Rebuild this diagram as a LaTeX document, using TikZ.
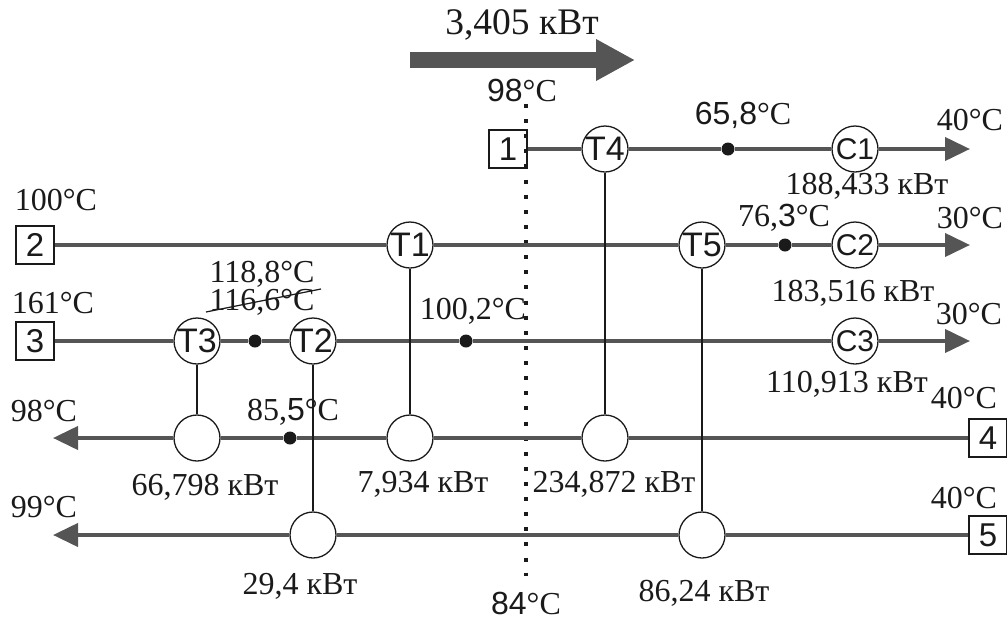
\documentclass[tikz,border=0pt]{standalone}
\usepackage{fontspec}
\setmainfont{Liberation Serif}
\setsansfont{Liberation Sans}
\usetikzlibrary{arrows.meta}
\definecolor{PipeGrey}{HTML}{555555}
\definecolor{InkDark}{HTML}{1A1A1A}
\tikzset{
  hex unit/.style={
    circle,
    draw=InkDark,
    line width=1.3pt,
    inner sep=-11pt,
    minimum size=46pt,
    font=\sffamily\fontsize{34}{34}\selectfont,
    text=InkDark
  },
  cool unit/.style={hex unit, font=\sffamily\fontsize{30}{30}\selectfont},
  stream box/.style={
    rectangle,
    draw=InkDark,
    line width=1.4pt,
    inner sep=0pt,
    minimum size=38pt,
    font=\sffamily\fontsize{33}{33}\selectfont,
    text=InkDark
  },
  temp dot/.style={circle, fill=InkDark, inner sep=0pt, minimum size=13pt},
  pipe/.style={PipeGrey, line width=4pt},
  pipe arr/.style={pipe, -{Triangle[length=25pt, width=23pt]}},
  tie/.style={InkDark, line width=1.5pt},
  txt/.style={font=\fontsize{32}{32}\selectfont, text=InkDark, inner sep=0pt}
}
\begin{document}
\begin{tikzpicture}[x=1pt, y=-1pt]
  \useasboundingbox (0,0) rectangle (1007,619);

  % pinch line
  \coordinate (pinchtop) at (526,104);
  \coordinate (pinchbot) at (526,576);
  \draw[InkDark, line width=4pt, dash pattern=on 4pt off 11.12pt] (pinchtop) -- (pinchbot);

  \coordinate (heatA) at (410,60);
  \coordinate (heatB) at (635,60);
  \draw[PipeGrey, line width=16pt, -{Triangle[length=39pt, width=39pt]}] (heatA) -- (heatB);

  \node[stream box] (s1) at (508,149) {1};
  \node[stream box] (s2) at (35,245) {2};
  \node[stream box] (s3) at (35,341) {3};
  \node[stream box] (s4) at (988,438) {4};
  \node[stream box] (s5) at (988,535) {5};

  \node[hex unit] (T4) at (605,149) {T4};
  \node[cool unit] (C1) at (855,149) {C1};
  \node[hex unit] (T1) at (410,245) {T1};
  \node[hex unit] (T5) at (702,245) {T5};
  \node[cool unit] (C2) at (855,245) {C2};
  \node[hex unit] (T3) at (197,341) {T3};
  \node[hex unit] (T2) at (313,341) {T2};
  \node[cool unit] (C3) at (855,341) {C3};
  \node[hex unit] (h3) at (197,438) {};
  \node[hex unit] (h1) at (410,438) {};
  \node[hex unit] (h4) at (605,438) {};
  \node[hex unit] (h2) at (313,535) {};
  \node[hex unit] (h5) at (702,535) {};

  \node[temp dot] (d1) at (728,149) {};
  \node[temp dot] (d2) at (785,245) {};
  \node[temp dot] (d3) at (255,341) {};
  \node[temp dot] (d4) at (466,341) {};
  \node[temp dot] (d5) at (290,438) {};

  \coordinate (e1) at (970,149);
  \coordinate (e2) at (970,245);
  \coordinate (e3) at (970,341);
  \coordinate (e4) at (53,438);
  \coordinate (e5) at (53,535);

  \draw[pipe] (s1) -- (T4) -- (d1) -- (C1);
  \draw[pipe] (s2) -- (T1) -- (T5) -- (d2) -- (C2);
  \draw[pipe] (s3) -- (T3) -- (d3) -- (T2) -- (d4) -- (C3);
  \draw[pipe] (s4) -- (h4) -- (h1) -- (d5) -- (h3);
  \draw[pipe] (s5) -- (h5) -- (h2);
  \draw[pipe arr] (C1) -- (e1);
  \draw[pipe arr] (C2) -- (e2);
  \draw[pipe arr] (C3) -- (e3);
  \draw[pipe arr] (h3) -- (e4);
  \draw[pipe arr] (h2) -- (e5);

  \draw[tie] (T3) -- (h3);
  \draw[tie] (T2) -- (h2);
  \draw[tie] (T1) -- (h1);
  \draw[tie] (T4) -- (h4);
  \draw[tie] (T5) -- (h5);

  \node[txt, font=\fontsize{37.5}{37.5}\selectfont] (tq) at (522,25) {3,405 кВт};
  \node[txt] (ttop) at (522,90) {\textsf{98}°C};
  \node[txt] (tbot) at (526,603) {\textsf{84}°C};

  \node[txt] (t1) at (743,115) {\textsf{65,8}°C};
  \node[txt] (t2) at (970,120) {40°C};
  \node[txt] (t3) at (867,186) {188,433 кВт};
  \node[txt] (t4) at (784,218) {76,\textsf{3}°C};
  \node[txt] (t5) at (970,218) {30°C};
  \node[txt] (t6) at (56,200) {100°C};
  \node[txt] (t7) at (262,274) {118,8°C};
  \node[txt] (t8) at (262,302) {116,6°C};
  \node[txt] (t9) at (53,303) {161°C};
  \node[txt] (t10) at (473,311) {100,2°C};
  \node[txt] (t11) at (853,293) {183,516 кВт};
  \node[txt] (t12) at (969,314) {30°C};
  \node[txt] (t13) at (847,384) {110,913 кВт};
  \node[txt] (t14) at (964,398) {40°C};
  \node[txt] (t15) at (44,411) {98°C};
  \node[txt] (t16) at (293,412) {85,\textsf{5}°C};
  \node[txt] (t17) at (205,487) {66,798 кВт};
  \node[txt] (t18) at (423,484) {7,934 кВт};
  \node[txt] (t19) at (614,484) {234,872 кВт};
  \node[txt] (t20) at (964,498) {40°C};
  \node[txt] (t21) at (44,507) {99°C};
  \node[txt] (t22) at (300,586) {29,4 кВт};
  \node[txt] (t23) at (704,593) {86,24 кВт};

  \coordinate (strikeA) at (206,312);
  \coordinate (strikeB) at (321,289);
  \draw[InkDark, line width=1.2pt] (strikeA) -- (strikeB);
\end{tikzpicture}
\end{document}
